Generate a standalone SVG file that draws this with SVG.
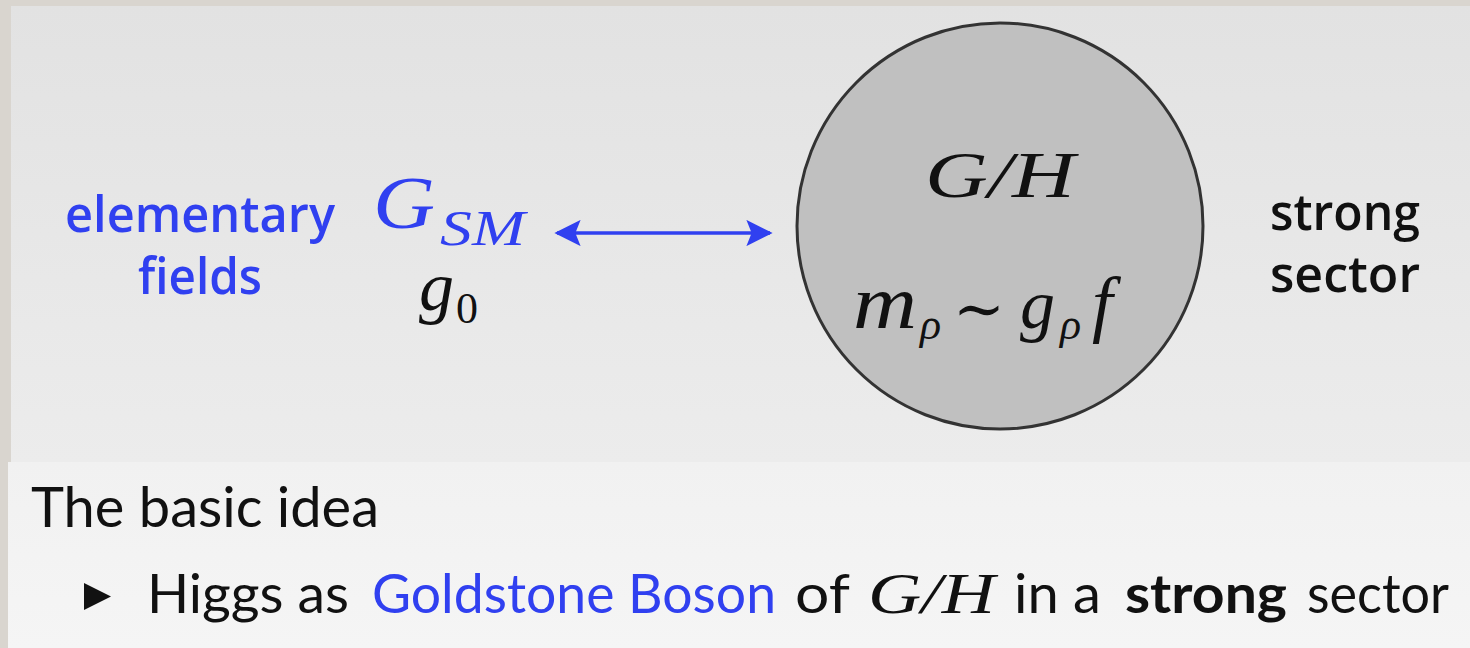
<svg xmlns="http://www.w3.org/2000/svg" width="1470" height="648" viewBox="0 0 1470 648">
<defs>
<linearGradient id="topg" x1="0" y1="0" x2="0" y2="1"><stop offset="0" stop-color="#e2e2e2"/><stop offset="1" stop-color="#ececec"/></linearGradient>
<linearGradient id="botg" x1="0" y1="0" x2="0" y2="1"><stop offset="0" stop-color="#f1f1f1"/><stop offset="1" stop-color="#f5f5f5"/></linearGradient>
<marker id="ah" viewBox="0 0 10 10" refX="9" refY="5" markerWidth="7.5" markerHeight="7.5" markerUnits="strokeWidth" orient="auto-start-reverse"><path d="M0,0 L10,5 L0,10 L2,5 Z" fill="#3040f0"/></marker>
<style>
.sans{font-family:Lato,"Open Sans","Liberation Sans",sans-serif}
.semi{font-family:"Open Sans",Lato,"Liberation Sans",sans-serif;font-weight:600}
.math{font-family:"Liberation Serif","DejaVu Serif",serif;font-style:italic}
.up{font-family:"Liberation Serif","DejaVu Serif",serif}
.blue{fill:#3040f0}
.blk{fill:#111}
</style>
</defs>
<rect width="1470" height="648" fill="#d9d5cf"/>
<rect x="11" y="6" width="1459" height="456" fill="url(#topg)"/>
<rect x="8" y="462" width="1462" height="186" fill="url(#botg)"/>
<g id="connectors">
<line x1="557" y1="233" x2="770" y2="233" stroke="#3040f0" stroke-width="3.5" marker-start="url(#ah)" marker-end="url(#ah)"/>
</g>
<g id="elementary">
<text class="semi blue" x="65" y="232" font-size="50" textLength="270" lengthAdjust="spacingAndGlyphs">elementary</text>
<text class="semi blue" x="138" y="294" font-size="50" textLength="124" lengthAdjust="spacingAndGlyphs">fields</text>
</g>
<g id="gsm">
<text class="math blue" x="373" y="228" font-size="74" textLength="62" lengthAdjust="spacingAndGlyphs">G</text>
<text class="math blue" x="440" y="245" font-size="50" textLength="85" lengthAdjust="spacingAndGlyphs">SM</text>
<text class="math blk" x="419" y="310" font-size="70">g</text>
<text class="up blk" x="456" y="323" font-size="44">0</text>
</g>
<g id="strong-sector-node">
<circle cx="1000" cy="226" r="203" fill="#c0c0c0" stroke="#333" stroke-width="3"/>
<text class="math blk" x="925" y="197" font-size="66" textLength="150" lengthAdjust="spacingAndGlyphs">G/H</text>
<text class="math blk" x="853" y="328" font-size="76" textLength="64" lengthAdjust="spacingAndGlyphs">m</text>
<text class="math blk" x="920" y="339" font-size="44">ρ</text>
<text class="up blk" x="953" y="330" font-size="62">∼</text>
<text class="math blk" x="1020" y="328" font-size="70">g</text>
<text class="math blk" x="1060" y="339" font-size="44">ρ</text>
<text class="math blk" x="1092" y="328" font-size="74">f</text>
</g>
<g id="strong-label">
<text class="semi blk" x="1270" y="230" font-size="50" textLength="150" lengthAdjust="spacingAndGlyphs">strong</text>
<text class="semi blk" x="1270" y="292" font-size="50" textLength="150" lengthAdjust="spacingAndGlyphs">sector</text>
</g>
<g id="caption">
<text class="sans blk" x="31" y="527" font-size="56" textLength="348" lengthAdjust="spacingAndGlyphs">The basic idea</text>
<path d="M84,583 L111,596.5 L84,610 Z" fill="#111"/>
<text class="sans blk" x="147" y="613" font-size="54" textLength="202" lengthAdjust="spacingAndGlyphs">Higgs as</text>
<text class="sans blue" x="372" y="613" font-size="54" textLength="404" lengthAdjust="spacingAndGlyphs">Goldstone Boson</text>
<text class="sans blk" x="795" y="613" font-size="54" textLength="55" lengthAdjust="spacingAndGlyphs">of</text>
<text class="math blk" x="868" y="613" font-size="58" textLength="127" lengthAdjust="spacingAndGlyphs">G/H</text>
<text class="sans blk" x="1014" y="613" font-size="54" textLength="87" lengthAdjust="spacingAndGlyphs">in a</text>
<text class="sans blk" x="1125" y="613" font-size="54" font-weight="bold" textLength="162" lengthAdjust="spacingAndGlyphs">strong</text>
<text class="sans blk" x="1307" y="613" font-size="54" textLength="142" lengthAdjust="spacingAndGlyphs">sector</text>
</g>
</svg>
